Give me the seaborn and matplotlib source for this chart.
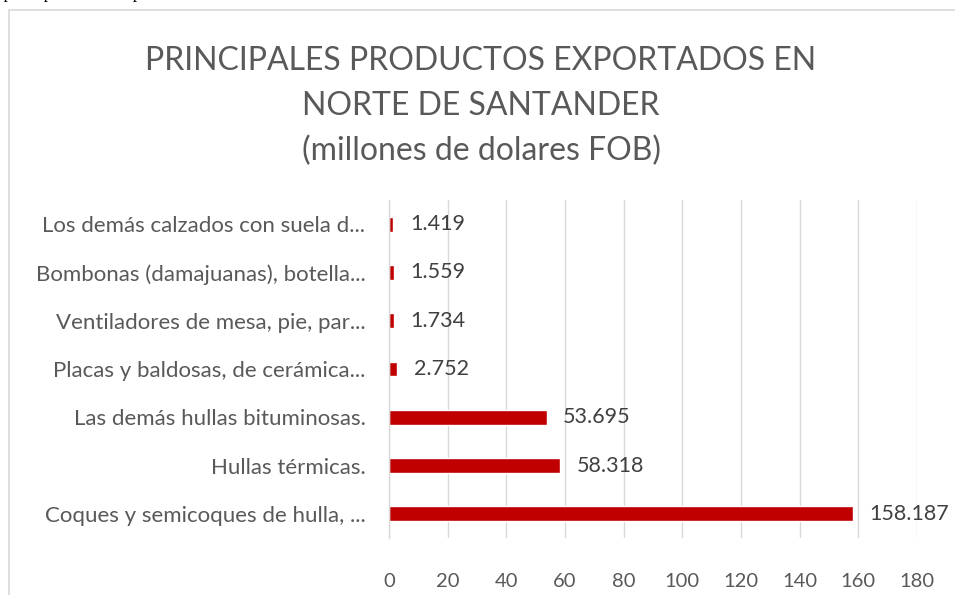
import numpy as np
import seaborn as sns
import matplotlib.pyplot as plt
from matplotlib.lines import Line2D

productos = [
    "Los demás calzados con suela d...",
    "Bombonas (damajuanas), botella...",
    "Ventiladores de mesa, pie, par...",
    "Placas y baldosas, de cerámica...",
    "Las demás hullas bituminosas.",
    "Hullas térmicas.",
    "Coques y semicoques de hulla, ...",
]
valores = [1.419, 1.559, 1.734, 2.752, 53.695, 58.318, 158.187]
x_ticks = [0, 20, 40, 60, 80, 100, 120, 140, 160, 180]

W, H = 955, 595
ROJO = "#C00000"
GRIS_TXT = "#595959"
GRIS_LINEA = "#D9D9D9"

sns.set_theme(style="white")
plt.rcParams["font.family"] = ["Lato", "DejaVu Sans"]

fig = plt.figure(figsize=(W / 100, H / 100), dpi=100)
fig.patch.set_facecolor("white")

# marco del grafico
fig.add_artist(Line2D([9 / W, 1], [1 - 10 / H] * 2, color=GRIS_LINEA, lw=1.2, transform=fig.transFigure))
fig.add_artist(Line2D([9 / W] * 2, [0, 1 - 10 / H], color=GRIS_LINEA, lw=1.2, transform=fig.transFigure))

# texto del documento, cortado en el borde superior
fig.text(-38 / W, 1 + 2 / H, "Principales productos exportados en Norte de Santander 2019",
         family=["Liberation Serif"], fontsize=12.5, color="black", ha="left", va="baseline")

ax = fig.add_axes([389 / W, 1 - 538 / H, (917 - 389) / W, (538 - 200) / H])
sns.barplot(x=valores, y=productos, orient="h", color=ROJO, width=0.31,
            saturation=1, ax=ax)

ax.set_xlim(0, 180)
ax.set_xticks(x_ticks)
ax.xaxis.grid(True, color=GRIS_LINEA, lw=1)
ax.set_axisbelow(True)
for s in ["top", "right", "bottom"]:
    ax.spines[s].set_visible(False)
ax.spines["left"].set_color(GRIS_LINEA)
ax.spines["left"].set_linewidth(1)
ax.tick_params(axis="x", length=0, pad=25, labelsize=14.5, labelcolor=GRIS_TXT)
ax.tick_params(axis="y", length=0, pad=17, labelsize=16, labelcolor=GRIS_TXT)
ax.set_xlabel("")
ax.set_ylabel("")

for cont in ax.containers:
    ax.bar_label(cont, labels=[f"{v:.3f}" for v in valores], padding=12,
                 fontsize=15.5, color="#404040")

fig.text(481 / W, 1 - 106 / H,
         "PRINCIPALES PRODUCTOS EXPORTADOS EN\nNORTE DE SANTANDER\n(millones de dolares FOB)",
         ha="center", va="center", fontsize=23, color=GRIS_TXT, linespacing=1.62)

fig.savefig("out.png", dpi=100)
